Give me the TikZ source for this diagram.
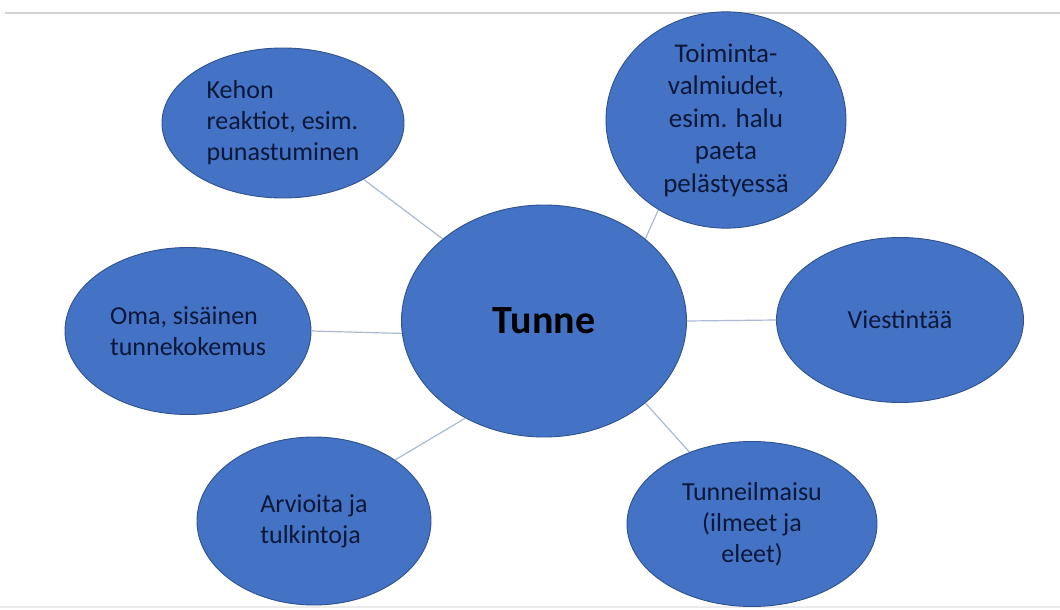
\documentclass[tikz,border=0pt]{standalone}
\usepackage{fontspec}
\setmainfont{Carlito}
\usetikzlibrary{shapes.geometric}
\definecolor{bubblefill}{HTML}{4472C4}
\definecolor{bubbleline}{HTML}{2F528F}
\definecolor{bubbletext}{HTML}{0B1838}
\definecolor{linkcol}{HTML}{A9B9D6}
\begin{document}
\begin{tikzpicture}[x=1pt, y=-1pt,
    bubble/.style = {draw=bubbleline, line width=0.9pt, fill=bubblefill, ellipse, inner sep=0pt,
                     text=bubbletext, font=\fontsize{26}{31}\selectfont},
    hub/.style = {bubble, text=black, font=\fontsize{40}{46}\selectfont\bfseries},
    link/.style = {draw=linkcol, line width=1.2pt}]

      \useasboundingbox (0,0) rectangle (1060,610);
      \draw[black!18, line width=2pt] (5,13) -- (1060,13);
      \draw[black!8, line width=1.5pt] (0,607) -- (1060,607);

      \node[hub, minimum width=285, minimum height=232] (tunne) at (544,321) {Tunne};

      \node[bubble, minimum width=242, minimum height=150, align=left] (kehon) at (283,123)
        {Kehon\\reaktiot, esim.\\punastuminen};
      \node[bubble, minimum width=240, minimum height=160, align=center,
            font=\fontsize{27}{32.5}\selectfont] (toiminta) at (726,120)
        {Toiminta-\\valmiudet,\\esim. halu\\paeta\\pelästyessä};
      \node[bubble, minimum width=246, minimum height=167, align=left] (oma) at (188,331)
        {Oma, sisäinen\\tunnekokemus};
      \node[bubble, minimum width=247, minimum height=165] (viesti) at (900,320) {Viestintää};
      \node[bubble, minimum width=234, minimum height=168, align=left] (arvio) at (314,521)
        {Arvioita ja\\tulkintoja};
      \node[bubble, minimum width=250, minimum height=165, align=center] (ilmaisu) at (752,524)
        {Tunneilmaisu\\(ilmeet ja\\eleet)};

      \foreach \sat/\from/\to in {kehon/141/325, toiminta/39/233, oma/185/0,
                                  viesti/0/180, arvio/231/37, ilmaisu/321/131}
        \draw[link] (tunne.\from) -- (\sat.\to);

\end{tikzpicture}
\end{document}
